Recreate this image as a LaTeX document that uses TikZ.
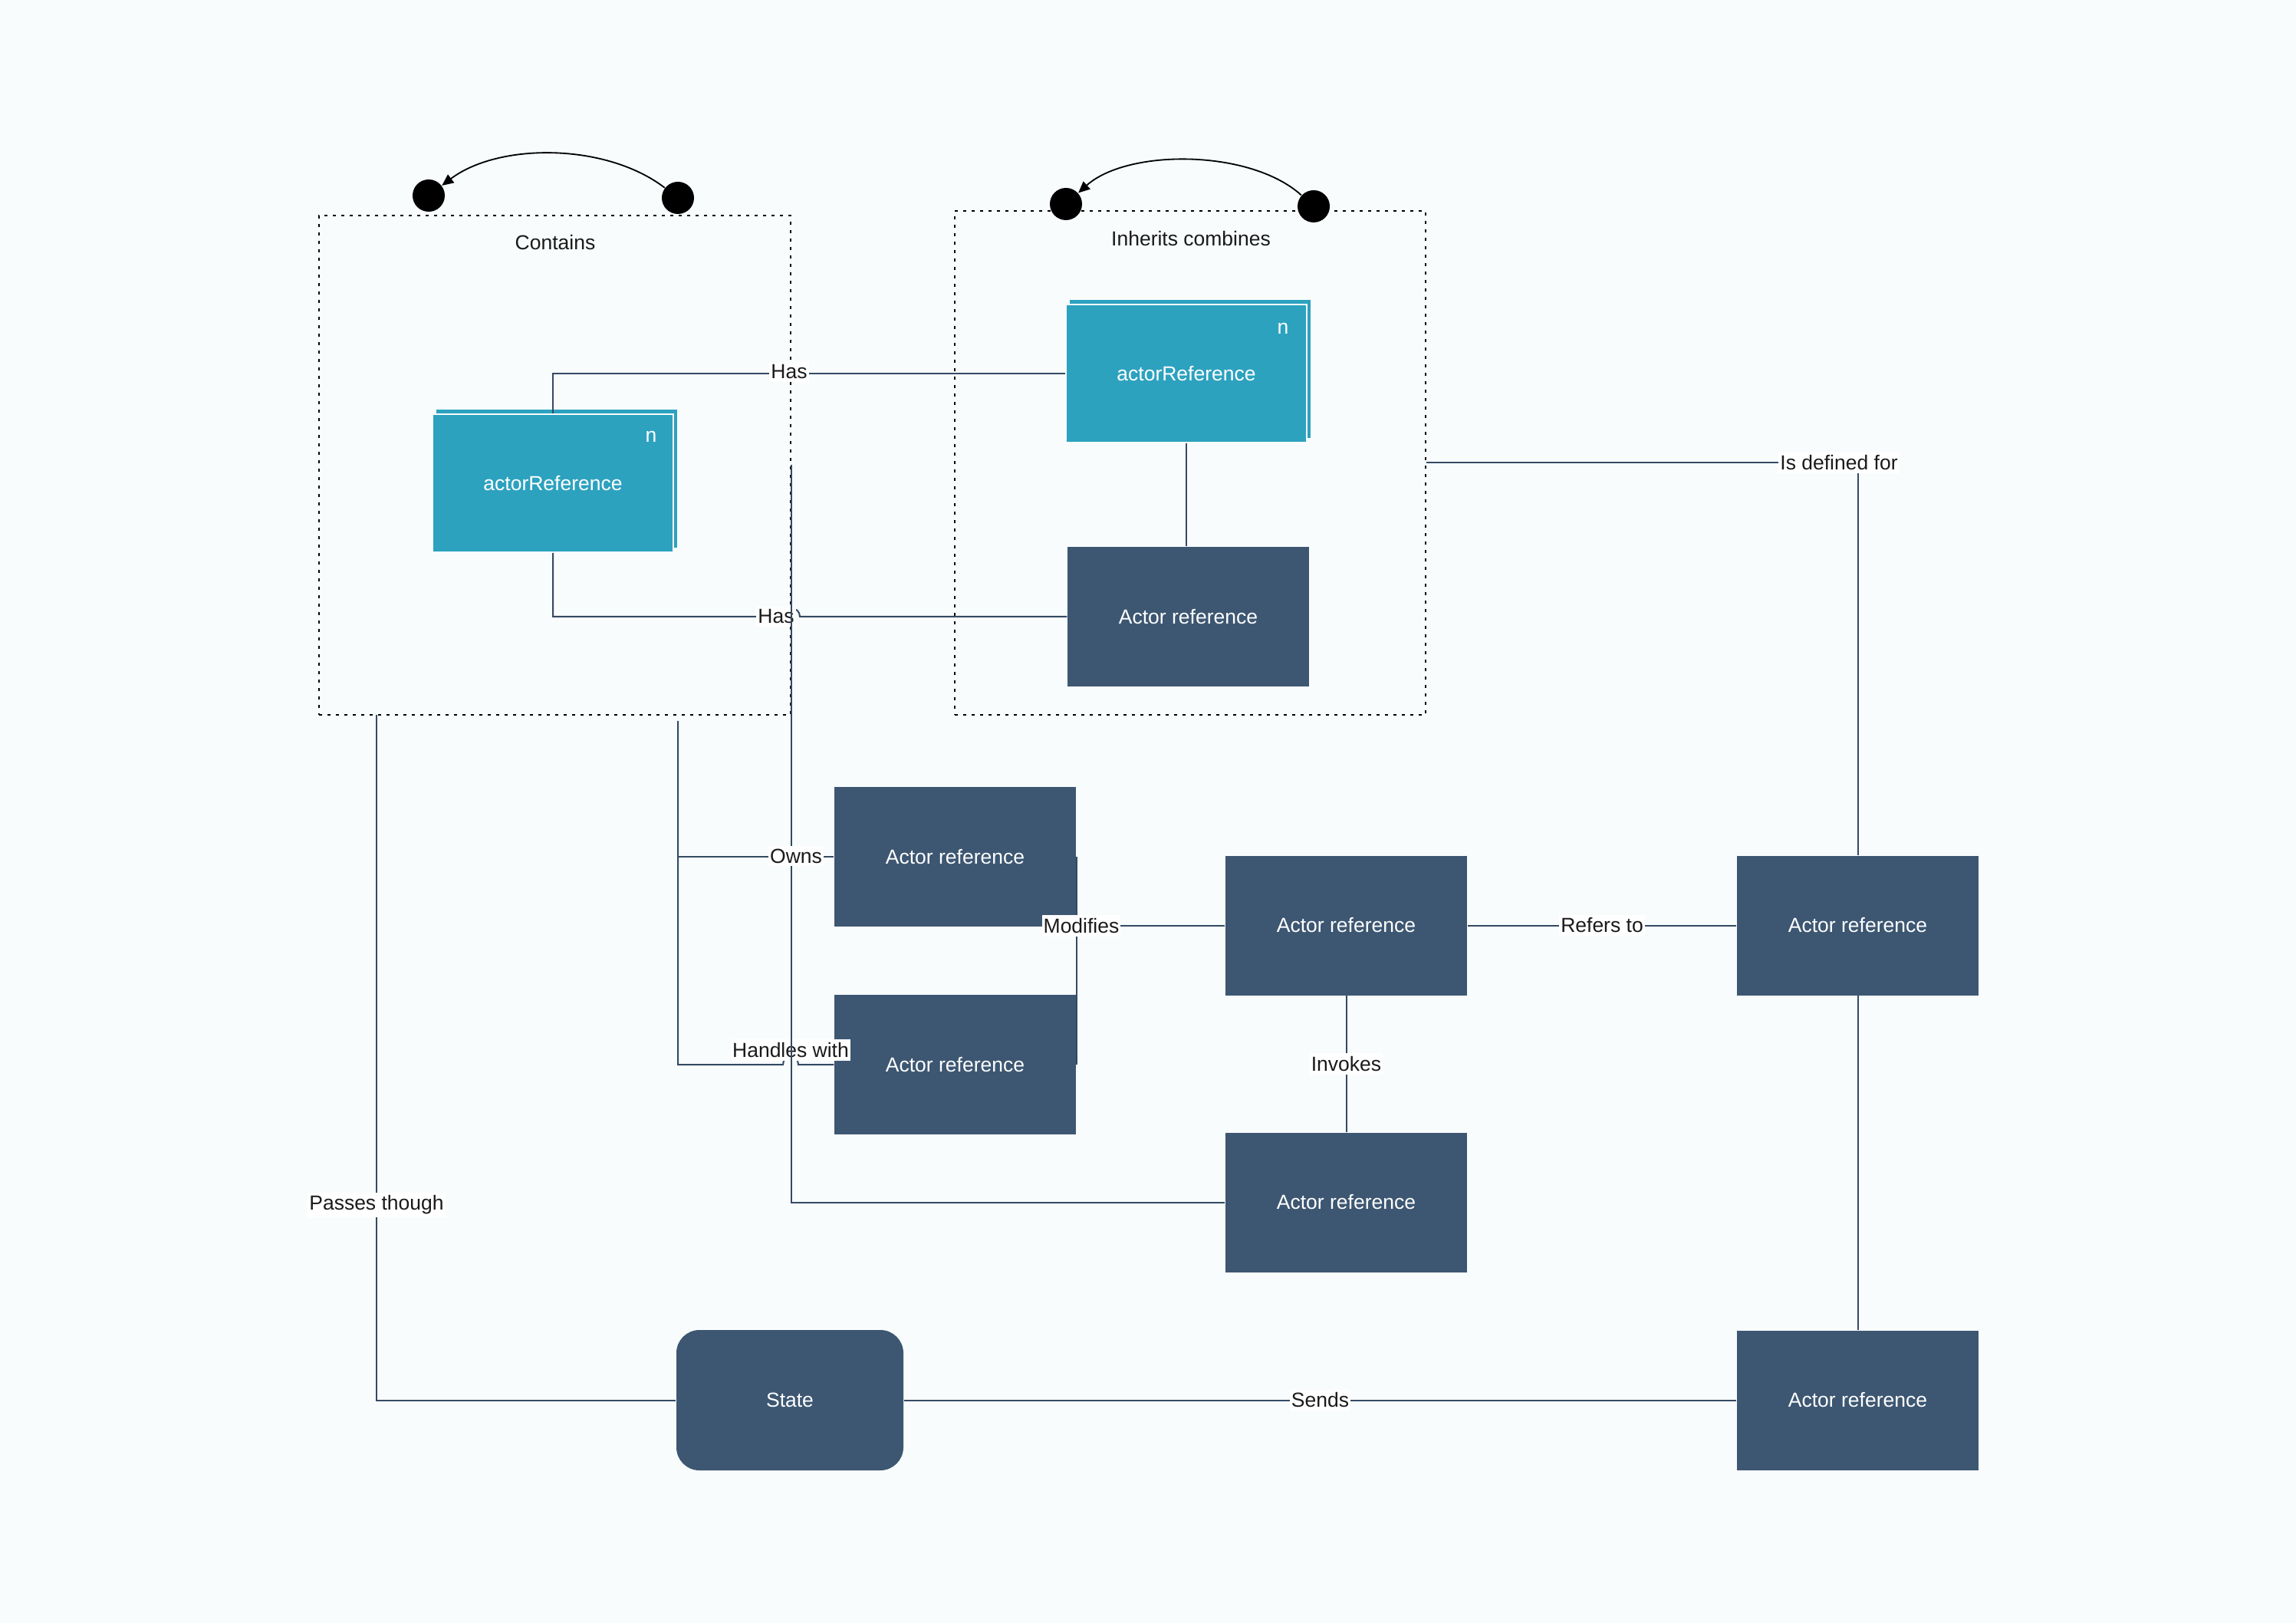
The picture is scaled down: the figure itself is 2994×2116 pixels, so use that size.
\documentclass[tikz,border=0pt]{standalone}
\usepackage{fontspec}
\setmainfont{Liberation Sans}
\usetikzlibrary{arrows.meta,calc}
\definecolor{bgc}{RGB}{248,252,253}
\definecolor{tealc}{RGB}{44,162,191}
\definecolor{navyc}{RGB}{61,87,114}
\definecolor{linec}{RGB}{52,74,99}
\definecolor{txtc}{RGB}{26,26,26}
\begin{document}
\begin{tikzpicture}[x=0.3pt,y=-0.3pt,
  every node/.style={font=\fontsize{7.95}{9.5}\selectfont},
  conn/.style={draw=linec, line width=0.6pt},
  actor/.style={rectangle, fill=navyc, text=white, minimum width=94.5pt, minimum height=54.6pt, inner sep=0pt},
  statebox/.style={rectangle, rounded corners=9pt, fill=navyc, text=white, minimum width=88.8pt, minimum height=54.9pt, inner sep=0pt},
  tealbox/.style={rectangle, fill=tealc, text=white, minimum width=94.2pt, minimum height=54pt, inner sep=0pt},
  tealfront/.style={tealbox, draw=bgc, line width=0.6pt},
  cont/.style={rectangle, draw=black, dash pattern=on 1.2pt off 2.1pt, line width=0.75pt, inner sep=0pt},
  dotn/.style={circle, fill=black, minimum size=12.6pt, inner sep=0pt},
  lbl/.style={fill=white, text=txtc, inner xsep=0.6pt, inner ysep=1.2pt},
  ttl/.style={text=txtc, inner sep=0pt},
  nmark/.style={text=white, inner sep=0pt},
  curvedarrow/.style={draw=black, line width=0.55pt, -{Triangle[length=4.5pt,width=4pt]}}
]
% background / bounding box
\fill[bgc] (0,0) rectangle (2994,2116);

% containers
\node[cont, minimum width=184.5pt, minimum height=195.3pt] (c1) at (723.5,606.5) {};
\node[cont, minimum width=184.2pt, minimum height=197.1pt] (c2) at (1552,603.5) {};
\node[ttl] (t1) at (724,316) {Contains};
\node[ttl] (t2) at (1553,311) {Inherits combines};

% dots and curved arrows
\node[dotn] (d1l) at (559,255) {};
\node[dotn] (d1r) at (884,258) {};
\node[dotn] (d2l) at (1390,266) {};
\node[dotn] (d2r) at (1713,269) {};
\draw[curvedarrow] (d1r) .. controls (790,186) and (650,186) .. (d1l);
\draw[curvedarrow] (d2r) .. controls (1630,194) and (1470,194) .. (d2l);

% teal boxes
\node[tealbox] (b1back) at (726,624) {};
\node[tealfront] (b1) at (721,630) {actorReference};
\node[nmark] (n1) at (849,569) {n};
\node[tealbox] (b2back) at (1552,481) {};
\node[tealfront] (b2) at (1547,487) {actorReference};
\node[nmark] (n2) at (1673,428) {n};

% actor boxes
\node[actor] (A) at (1549.5,804) {Actor reference};
\node[actor] (B) at (1245.5,1117) {Actor reference};
\node[actor] (C) at (1245.5,1388) {Actor reference};
\node[actor] (D) at (1755.5,1206.5) {Actor reference};
\node[actor] (E) at (1755.5,1567.5) {Actor reference};
\node[actor] (F) at (2422.5,1206.5) {Actor reference};
\node[actor] (G) at (2422.5,1825.5) {Actor reference};
\node[statebox] (State) at (1030,1825.5) {State};

% connector anchor points on container 1
\coordinate (c1sw) at (491,932);
\coordinate (c1s) at (884,940);

% connectors
\draw[conn] (b1.north) |- (b2.west) node[lbl] at (1029,485) {Has};
\draw[conn] (b1.south) |- (1023,804) .. controls (1023,790) and (1043,790) .. (1043,804) -- (A.west) node[lbl] at (1012,804) {Has};
\draw[conn] (b2.south) -- (b2.south |- A.north);
\draw[conn] (c2.east) -| (F.north) node[lbl] at (2398,603) {Is defined for};
\draw[conn] (c1sw) |- (State.west) node[lbl] at (491,1571) {Passes though};
\draw[conn] (c1s) |- (1021,1388) .. controls (1021,1374) and (1041,1374) .. (1041,1388) -- (C.west) node[lbl] at (1031,1369) {Handles with};
\draw[conn] (c1.east) |- (E.west);
\draw[conn] (c1s) |- (B.west) node[lbl] at (1038,1116) {Owns};
\draw[conn] (B.east) |- (D.west);
\draw[conn] (C.east) |- (D.west) node[lbl] at (1410,1207) {Modifies};
\draw[conn] (D.east) -- (F.west) node[lbl, midway] {Refers to};
\draw[conn] (D.south) -- (E.north) node[lbl, midway] {Invokes};
\draw[conn] (State.east) -- (G.west) node[lbl, midway] {Sends};
\draw[conn] (F.south) -- (G.north);
\end{tikzpicture}
\end{document}
